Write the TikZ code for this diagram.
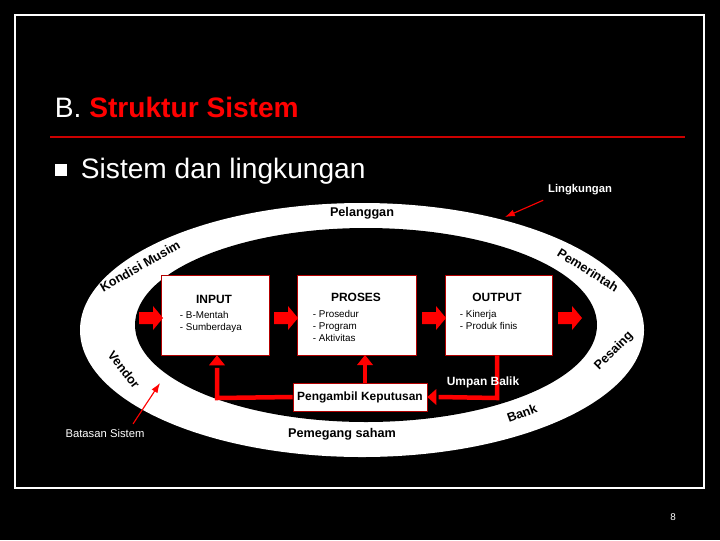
\documentclass[tikz,border=0pt]{standalone}
\usepackage{fontspec}
\setmainfont{Liberation Sans}
\usetikzlibrary{arrows.meta}
\tikzset{
  box/.style={draw=red!70!black, fill=white, inner sep=0pt},
  ringtext/.style={font=\bfseries\fontsize{9}{10}\selectfont, text=black},
  itemtext/.style={font=\fontsize{7}{8.5}\selectfont, align=left, anchor=north west, text=black},
  feed/.style={red, line width=3.2pt},
  pointer/.style={red, thick, -{Latex[length=7pt,width=5pt]}}
}
\begin{document}
\begin{tikzpicture}[x=0.025cm, y=-0.025cm]
  \fill[black] (0,0) rectangle (720,540);
  \useasboundingbox (0,0) rectangle (720,540);
  \draw[white, line width=2pt] (15,15) rectangle (704,488);

  % title
  \node[anchor=base west, text=white, font=\fontsize{20}{24}\selectfont] (title) at (50,117)
    {B. \textcolor{red}{\bfseries Struktur Sistem}};
  \draw[red!80!black, line width=1.2pt] (50,137) -- (685,137);
  \fill[white] (55,164) rectangle (67,176);
  \node[anchor=base west, text=white, font=\fontsize{20}{24}\selectfont] (sub) at (76,178) {Sistem dan lingkungan};

  % environment ring
  \fill[white] (362,330) ellipse[x radius=282, y radius=127];
  \fill[black] (366,325) ellipse[x radius=231, y radius=97];

  % boxes
  \node[box, minimum width=2.7cm, minimum height=2cm] (input) at (215,315) {};
  \node[box, minimum width=2.975cm, minimum height=2cm] (proses) at (356.5,315) {};
  \node[box, minimum width=2.675cm, minimum height=2cm] (output) at (498.5,315) {};
  \node[box, minimum width=3.35cm, minimum height=0.7cm, font=\bfseries\fontsize{8.5}{10}\selectfont] (decide) at (360,397) {Pengambil Keputusan};

  \node[font=\bfseries\fontsize{8.5}{10}\selectfont] at (214,299) {INPUT};
  \node[itemtext] at (175,306) {- B-Mentah\\- Sumberdaya};
  \node[font=\bfseries\fontsize{8.5}{10}\selectfont] at (356,297) {PROSES};
  \node[itemtext] at (308,305) {- Prosedur\\- Program\\- Aktivitas};
  \node[font=\bfseries\fontsize{8.5}{10}\selectfont] at (497,297) {OUTPUT};
  \node[itemtext] at (455,305) {- Kinerja\\- Produk finis};

  % block arrows
  \foreach \xa in {139,274,422,558}
    \fill[red] (\xa,312) -- ++(14,0) -- ++(0,-6) -- ++(10,12) -- ++(-10,12) -- ++(0,-6) -- ++(-14,0) -- cycle;

  % feedback
  \coordinate (fb) at (497,398);
  \coordinate (fa) at (217,398);
  \draw[feed] (output.south -| fb) -- (fb) -- ([xshift=8]decide.east);
  \fill[red] (decide.east) -- ++(9,-8) -- ++(0,16) -- cycle;
  \draw[feed] (decide.west) -- (fa) -- ([yshift=-9]fa |- input.south);
  \fill[red] (fa |- input.south) ++(-8,10) -- ++(8,-10) -- ++(8,10) -- cycle;
  \draw[feed] (decide.north -| 365,0) -- (365,364);
  \fill[red] (357,365) -- (365,355) -- (373,365) -- cycle;
  \node[text=white, font=\bfseries\fontsize{8.5}{10}\selectfont] (umpan) at (483,382) {Umpan Balik};

  % ring labels
  \node[ringtext] (pelanggan) at (362,213) {Pelanggan};
  \node[ringtext] (saham) at (342,434) {Pemegang saham};
  \node[ringtext, rotate=20] (bank) at (522,413) {Bank};
  \node[ringtext, rotate=30] (kondisi) at (140,266) {Kondisi Musim};
  \node[ringtext, rotate=-32] (pemerintah) at (588,270) {Pemerintah};
  \node[ringtext, rotate=-52] (vendor) at (124,370) {Vendor};
  \node[ringtext, rotate=45] (pesaing) at (614,351) {Pesaing};

  % pointers
  \node[text=white, font=\bfseries\fontsize{8}{10}\selectfont] (lingk) at (580,190) {Lingkungan};
  \draw[pointer] (lingk.south west) -- (505,217);
  \node[text=white, font=\fontsize{8}{10}\selectfont] (batas) at (105,433) {Batasan Sistem};
  \draw[pointer] (batas.north) ++(28,0) -- (160,383);

  \node[text=white, font=\fontsize{7}{8}\selectfont] (page) at (673,517) {8};
\end{tikzpicture}
\end{document}
